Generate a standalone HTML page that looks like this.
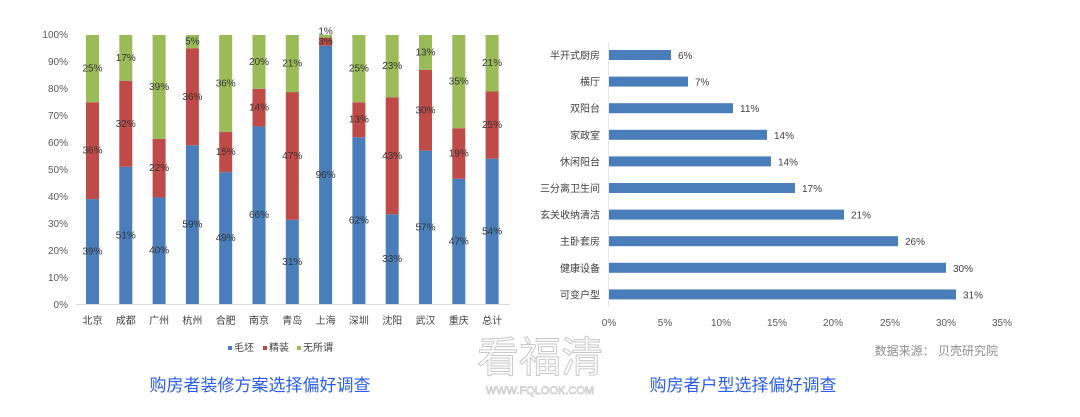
<!DOCTYPE html>
<html><head><meta charset="utf-8"><style>
html,body{margin:0;padding:0;background:#fff;}
svg{display:block;font-family:"Liberation Sans","Noto Sans CJK SC",sans-serif;}
</style></head><body>
<svg width="1080" height="417" viewBox="0 0 1080 417" xmlns="http://www.w3.org/2000/svg">
<rect width="1080" height="417" fill="#fff"/>
<g font-size="10" fill="#595959" text-anchor="end">
<text x="68" y="38">100%</text><text x="68" y="65">90%</text><text x="68" y="92">80%</text><text x="68" y="119">70%</text><text x="68" y="146">60%</text><text x="68" y="173">50%</text><text x="68" y="200">40%</text><text x="68" y="227">30%</text><text x="68" y="254">20%</text><text x="68" y="281">10%</text><text x="68" y="308">0%</text>
</g>
<line x1="76" y1="304.5" x2="510" y2="304.5" stroke="#d9d9d9"/>
<g id="bars"></g>
<g font-size="10" fill="#404040" text-anchor="middle" id="cats"></g>
<g font-size="10" fill="#404040">
<rect x="228" y="346" width="4" height="4" fill="#4a7ebb"/><text x="234" y="351">毛坯</text>
<rect x="263" y="346" width="4" height="4" fill="#be4b48"/><text x="269" y="351">精装</text>
<rect x="297" y="346" width="4" height="4" fill="#9bbb59"/><text x="303" y="351">无所谓</text>
</g>
<text x="260" y="391" font-size="17" fill="#2b5ef0" text-anchor="middle">购房者装修方案选择偏好调查</text>
<text x="540" y="372" font-size="42" fill="#fff" stroke="#c8c8c8" stroke-width="1" text-anchor="middle">看福清</text>
<text x="540" y="394" font-size="11" fill="#fff" stroke="#c8c8c8" stroke-width="0.7" text-anchor="middle">WWW.FQLOOK.COM</text>
<line x1="608.5" y1="42" x2="608.5" y2="306" stroke="#e6e6e6"/>
<g id="hbars"></g>
<g font-size="10" fill="#595959" text-anchor="middle">
<text x="609" y="326">0%</text><text x="665" y="326">5%</text><text x="721" y="326">10%</text><text x="777" y="326">15%</text><text x="833" y="326">20%</text><text x="890" y="326">25%</text><text x="946" y="326">30%</text><text x="1002" y="326">35%</text>
</g>
<text x="998" y="355" font-size="12" fill="#8c8c8c" text-anchor="end">数据来源： 贝壳研究院</text>
<text x="743" y="391" font-size="17" fill="#2b5ef0" text-anchor="middle">购房者户型选择偏好调查</text>
<script>
var ns="http://www.w3.org/2000/svg";
function el(p,t,a,txt){var e=document.createElementNS(ns,t);for(var k in a)e.setAttribute(k,a[k]);if(txt)e.textContent=txt;p.appendChild(e);return e;}
var cats=["北京","成都","广州","杭州","合肥","南京","青岛","上海","深圳","沈阳","武汉","重庆","总计"];
var d=[[39,36,25],[51,32,17],[40,22,39],[59,36,5],[49,15,36],[66,14,20],[31,47,21],[96,3,1],[62,13,25],[33,43,23],[57,30,13],[47,19,35],[54,25,21]];
var g=document.getElementById("bars"),c=document.getElementById("cats");
var y0=304,H=269,cols=["#4a7ebb","#be4b48","#9bbb59"];
d.forEach(function(r,i){var cx=92.5+i*33.3,s=r[0]+r[1]+r[2],acc=0;
 r.forEach(function(v,j){var h=v/s*H;var yt=y0-(acc+v/s)*H;
  el(g,"rect",{x:cx-6.5,y:yt,width:13,height:h,fill:cols[j]});
  el(g,"text",{x:cx,y:yt+h/2+(i==7&&j==2?-2:3),"font-size":10,fill:"#333","text-anchor":"middle"},v+"%");
  acc+=v/s;});
 el(c,"text",{x:cx,y:324},cats[i]);});
var hl=["半开式厨房","横厅","双阳台","家政室","休闲阳台","三分离卫生间","玄关收纳清洁","主卧套房","健康设备","可变户型"];
var hv=[6,7,11,14,14,17,21,26,30,31],hw=[62,79,124,158,162,186,235,289,337,347];
var hg=document.getElementById("hbars");
hl.forEach(function(l,i){var cy=55+i*26.6;
 el(hg,"rect",{x:609,y:cy-5,width:hw[i],height:10,fill:"#4a7ebb"});
 el(hg,"text",{x:600,y:cy+4,"font-size":10,fill:"#404040","text-anchor":"end"},l);
 el(hg,"text",{x:609+hw[i]+7,y:cy+4,"font-size":10,fill:"#404040"},hv[i]+"%");});
</script>
</svg>
</body></html>
